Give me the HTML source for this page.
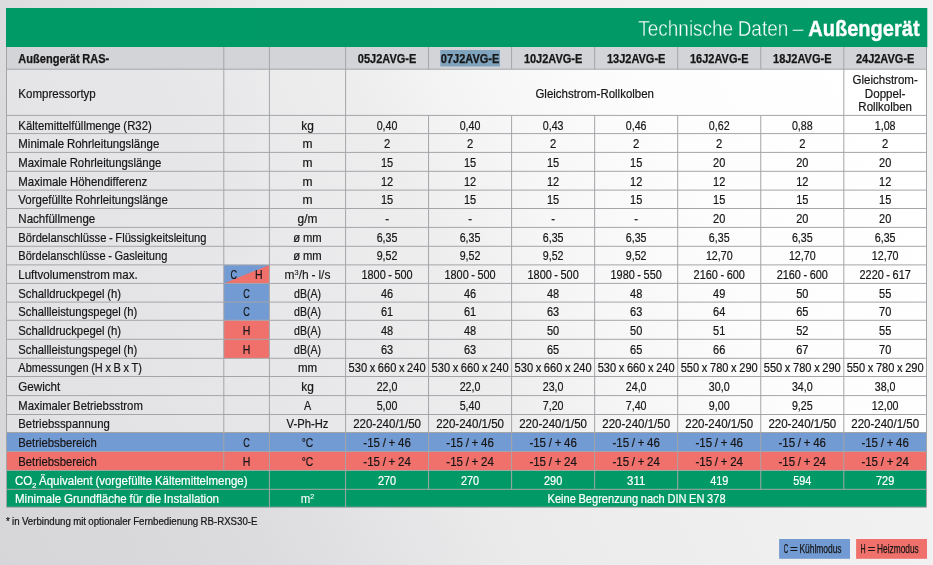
<!DOCTYPE html>
<html lang="de"><head><meta charset="utf-8"><title>Technische Daten – Außengerät</title>
<style>
html,body{margin:0;padding:0;}
body{width:933px;height:565px;overflow:hidden;font-family:"Liberation Sans",sans-serif;
background:#e6e6e8;}
svg{display:block;position:absolute;left:0;top:0;font-family:"Liberation Sans",sans-serif;will-change:transform;opacity:0.999;}
</style></head><body>
<svg width="933" height="565" viewBox="0 0 933 565">
<defs><linearGradient id="gOut" gradientUnits="userSpaceOnUse" x1="0" y1="565" x2="978.7" y2="95.2"><stop offset="0.000" stop-color="#d6d6d8"/><stop offset="0.092" stop-color="#d8d8da"/><stop offset="0.225" stop-color="#dcdcde"/><stop offset="0.308" stop-color="#e2e2e4"/><stop offset="0.425" stop-color="#eaeaeb"/><stop offset="0.591" stop-color="#eeeeee"/><stop offset="0.773" stop-color="#f1f1f1"/><stop offset="0.973" stop-color="#f3f3f3"/></linearGradient><linearGradient id="gIn" gradientUnits="userSpaceOnUse" x1="0" y1="565" x2="978.7" y2="95.2"><stop offset="0.000" stop-color="#e0e0e2"/><stop offset="0.198" stop-color="#e4e4e6"/><stop offset="0.308" stop-color="#e7e7e9"/><stop offset="0.480" stop-color="#ededee"/><stop offset="0.588" stop-color="#f6f6f6"/><stop offset="0.729" stop-color="#fdfdfd"/><stop offset="0.937" stop-color="#ffffff"/></linearGradient></defs>
<rect x="0.00" y="0.00" width="933.00" height="565.00" fill="url(#gOut)" />
<rect x="6.50" y="69.20" width="920.00" height="363.30" fill="url(#gIn)" />
<rect x="6.00" y="8.00" width="921.30" height="39.30" fill="#009a66" />
<rect x="6.50" y="47.00" width="920.00" height="22.20" fill="#d3d4d7" />
<rect x="223.80" y="264.90" width="45.60" height="18.50" fill="#739bd3" />
<polygon points="223.80,283.40 269.40,264.90 269.40,283.40" fill="#f0706b"/>
<rect x="223.80" y="283.40" width="45.60" height="36.90" fill="#739bd3" />
<rect x="223.80" y="320.30" width="45.60" height="38.00" fill="#f0706b" />
<rect x="6.50" y="432.50" width="920.00" height="19.00" fill="#739bd3" />
<rect x="6.50" y="451.50" width="920.00" height="18.90" fill="#f0706b" />
<rect x="6.50" y="470.40" width="920.00" height="36.80" fill="#009a66" />
<rect x="440.30" y="50.00" width="59.70" height="16.50" fill="#7fa2bd" />
<line x1="6.50" y1="69.20" x2="926.50" y2="69.20" stroke="#a4a5a8" stroke-width="1"/>
<line x1="6.50" y1="115.40" x2="926.50" y2="115.40" stroke="#a4a5a8" stroke-width="1"/>
<line x1="6.50" y1="133.60" x2="926.50" y2="133.60" stroke="#a4a5a8" stroke-width="1"/>
<line x1="6.50" y1="152.40" x2="926.50" y2="152.40" stroke="#a4a5a8" stroke-width="1"/>
<line x1="6.50" y1="171.30" x2="926.50" y2="171.30" stroke="#a4a5a8" stroke-width="1"/>
<line x1="6.50" y1="190.10" x2="926.50" y2="190.10" stroke="#a4a5a8" stroke-width="1"/>
<line x1="6.50" y1="208.50" x2="926.50" y2="208.50" stroke="#a4a5a8" stroke-width="1"/>
<line x1="6.50" y1="227.40" x2="926.50" y2="227.40" stroke="#a4a5a8" stroke-width="1"/>
<line x1="6.50" y1="246.30" x2="926.50" y2="246.30" stroke="#a4a5a8" stroke-width="1"/>
<line x1="6.50" y1="264.90" x2="926.50" y2="264.90" stroke="#a4a5a8" stroke-width="1"/>
<line x1="6.50" y1="283.40" x2="926.50" y2="283.40" stroke="#a4a5a8" stroke-width="1"/>
<line x1="6.50" y1="302.10" x2="926.50" y2="302.10" stroke="#a4a5a8" stroke-width="1"/>
<line x1="6.50" y1="320.30" x2="926.50" y2="320.30" stroke="#a4a5a8" stroke-width="1"/>
<line x1="6.50" y1="339.30" x2="926.50" y2="339.30" stroke="#a4a5a8" stroke-width="1"/>
<line x1="6.50" y1="358.30" x2="926.50" y2="358.30" stroke="#a4a5a8" stroke-width="1"/>
<line x1="6.50" y1="376.50" x2="926.50" y2="376.50" stroke="#a4a5a8" stroke-width="1"/>
<line x1="6.50" y1="395.60" x2="926.50" y2="395.60" stroke="#a4a5a8" stroke-width="1"/>
<line x1="6.50" y1="414.50" x2="926.50" y2="414.50" stroke="#a4a5a8" stroke-width="1"/>
<line x1="6.50" y1="432.50" x2="926.50" y2="432.50" stroke="#a4a5a8" stroke-width="1"/>
<line x1="6.50" y1="451.50" x2="926.50" y2="451.50" stroke="#a4a5a8" stroke-width="1"/>
<line x1="6.50" y1="470.40" x2="926.50" y2="470.40" stroke="#a4a5a8" stroke-width="1"/>
<line x1="6.50" y1="489.30" x2="926.50" y2="489.30" stroke="#a4a5a8" stroke-width="1"/>
<line x1="6.50" y1="507.20" x2="926.50" y2="507.20" stroke="#a4a5a8" stroke-width="1"/>
<line x1="6.50" y1="47.00" x2="6.50" y2="507.20" stroke="#a4a5a8" stroke-width="1"/>
<line x1="926.50" y1="47.00" x2="926.50" y2="507.20" stroke="#a4a5a8" stroke-width="1"/>
<line x1="223.80" y1="47.00" x2="223.80" y2="470.40" stroke="#a4a5a8" stroke-width="1"/>
<line x1="269.40" y1="47.00" x2="269.40" y2="507.20" stroke="#a4a5a8" stroke-width="1"/>
<line x1="345.60" y1="47.00" x2="345.60" y2="507.20" stroke="#a4a5a8" stroke-width="1"/>
<line x1="428.55" y1="47.00" x2="428.55" y2="69.20" stroke="#a4a5a8" stroke-width="1"/>
<line x1="428.55" y1="115.40" x2="428.55" y2="489.30" stroke="#a4a5a8" stroke-width="1"/>
<line x1="511.60" y1="47.00" x2="511.60" y2="69.20" stroke="#a4a5a8" stroke-width="1"/>
<line x1="511.60" y1="115.40" x2="511.60" y2="489.30" stroke="#a4a5a8" stroke-width="1"/>
<line x1="594.65" y1="47.00" x2="594.65" y2="69.20" stroke="#a4a5a8" stroke-width="1"/>
<line x1="594.65" y1="115.40" x2="594.65" y2="489.30" stroke="#a4a5a8" stroke-width="1"/>
<line x1="677.70" y1="47.00" x2="677.70" y2="69.20" stroke="#a4a5a8" stroke-width="1"/>
<line x1="677.70" y1="115.40" x2="677.70" y2="489.30" stroke="#a4a5a8" stroke-width="1"/>
<line x1="760.75" y1="47.00" x2="760.75" y2="69.20" stroke="#a4a5a8" stroke-width="1"/>
<line x1="760.75" y1="115.40" x2="760.75" y2="489.30" stroke="#a4a5a8" stroke-width="1"/>
<line x1="843.80" y1="47.00" x2="843.80" y2="69.20" stroke="#a4a5a8" stroke-width="1"/>
<line x1="843.80" y1="115.40" x2="843.80" y2="489.30" stroke="#a4a5a8" stroke-width="1"/>
<line x1="843.80" y1="69.20" x2="843.80" y2="115.40" stroke="#a4a5a8" stroke-width="1"/>
<text x="638.30" y="36.00" font-size="21.8" fill="#fff" textLength="165.00" lengthAdjust="spacingAndGlyphs" stroke="#009a66" stroke-width="0.4" word-spacing="-0.87">Technische Daten –</text>
<text x="808.20" y="36.00" font-size="22" fill="#fff" font-weight="700" textLength="111.50" lengthAdjust="spacingAndGlyphs" stroke="#fff" stroke-width="0.35">Außengerät</text>
<text x="18.30" y="62.90" font-size="12" fill="#161616" font-weight="700" textLength="91.00" lengthAdjust="spacingAndGlyphs"  stroke="#161616" stroke-width="0.25" word-spacing="-0.48">Außengerät RAS-</text>
<text x="357.83" y="62.90" font-size="12" fill="#161616" font-weight="700" textLength="58.50" lengthAdjust="spacingAndGlyphs"  stroke="#161616" stroke-width="0.25">05J2AVG-E</text>
<text x="440.83" y="62.90" font-size="12" fill="#161616" font-weight="700" textLength="58.50" lengthAdjust="spacingAndGlyphs"  stroke="#161616" stroke-width="0.25">07J2AVG-E</text>
<text x="523.88" y="62.90" font-size="12" fill="#161616" font-weight="700" textLength="58.50" lengthAdjust="spacingAndGlyphs"  stroke="#161616" stroke-width="0.25">10J2AVG-E</text>
<text x="606.92" y="62.90" font-size="12" fill="#161616" font-weight="700" textLength="58.50" lengthAdjust="spacingAndGlyphs"  stroke="#161616" stroke-width="0.25">13J2AVG-E</text>
<text x="689.98" y="62.90" font-size="12" fill="#161616" font-weight="700" textLength="58.50" lengthAdjust="spacingAndGlyphs"  stroke="#161616" stroke-width="0.25">16J2AVG-E</text>
<text x="773.02" y="62.90" font-size="12" fill="#161616" font-weight="700" textLength="58.50" lengthAdjust="spacingAndGlyphs"  stroke="#161616" stroke-width="0.25">18J2AVG-E</text>
<text x="855.90" y="62.90" font-size="12" fill="#161616" font-weight="700" textLength="58.50" lengthAdjust="spacingAndGlyphs"  stroke="#161616" stroke-width="0.25">24J2AVG-E</text>
<text x="18.30" y="97.70" font-size="12.6" fill="#161616" textLength="77.50" lengthAdjust="spacingAndGlyphs"  stroke="#161616" stroke-width="0.2">Kompressortyp</text>
<text x="535.45" y="97.70" font-size="12.3" fill="#161616" textLength="118.50" lengthAdjust="spacingAndGlyphs"  stroke="#161616" stroke-width="0.2">Gleichstrom-Rollkolben</text>
<text x="852.55" y="84.00" font-size="12.3" fill="#161616" textLength="65.20" lengthAdjust="spacingAndGlyphs"  stroke="#161616" stroke-width="0.2">Gleichstrom-</text>
<text x="864.85" y="97.80" font-size="12.3" fill="#161616" textLength="40.60" lengthAdjust="spacingAndGlyphs"  stroke="#161616" stroke-width="0.2">Doppel-</text>
<text x="858.35" y="110.70" font-size="12.3" fill="#161616" textLength="53.60" lengthAdjust="spacingAndGlyphs"  stroke="#161616" stroke-width="0.2">Rollkolben</text>
<text x="18.30" y="129.70" font-size="12.6" fill="#161616" textLength="133.50" lengthAdjust="spacingAndGlyphs"  stroke="#161616" stroke-width="0.2" word-spacing="-0.50">Kältemittelfüllmenge (R32)</text>
<text x="301.20" y="129.70" font-size="12.3" fill="#161616" textLength="12.60" lengthAdjust="spacingAndGlyphs"  stroke="#161616" stroke-width="0.2">kg</text>
<text x="376.70" y="129.70" font-size="12.3" fill="#161616" textLength="20.75" lengthAdjust="spacingAndGlyphs"  stroke="#161616" stroke-width="0.2">0,40</text>
<text x="459.70" y="129.70" font-size="12.3" fill="#161616" textLength="20.75" lengthAdjust="spacingAndGlyphs"  stroke="#161616" stroke-width="0.2">0,40</text>
<text x="542.75" y="129.70" font-size="12.3" fill="#161616" textLength="20.75" lengthAdjust="spacingAndGlyphs"  stroke="#161616" stroke-width="0.2">0,43</text>
<text x="625.80" y="129.70" font-size="12.3" fill="#161616" textLength="20.75" lengthAdjust="spacingAndGlyphs"  stroke="#161616" stroke-width="0.2">0,46</text>
<text x="708.85" y="129.70" font-size="12.3" fill="#161616" textLength="20.75" lengthAdjust="spacingAndGlyphs"  stroke="#161616" stroke-width="0.2">0,62</text>
<text x="791.90" y="129.70" font-size="12.3" fill="#161616" textLength="20.75" lengthAdjust="spacingAndGlyphs"  stroke="#161616" stroke-width="0.2">0,88</text>
<text x="874.77" y="129.70" font-size="12.3" fill="#161616" textLength="20.75" lengthAdjust="spacingAndGlyphs"  stroke="#161616" stroke-width="0.2">1,08</text>
<text x="18.30" y="148.36" font-size="12.6" fill="#161616" textLength="141.00" lengthAdjust="spacingAndGlyphs"  stroke="#161616" stroke-width="0.2" word-spacing="-0.50">Minimale Rohrleitungslänge</text>
<text x="302.50" y="148.36" font-size="12.3" fill="#161616" textLength="10.00" lengthAdjust="spacingAndGlyphs"  stroke="#161616" stroke-width="0.2">m</text>
<text x="383.95" y="148.36" font-size="12.3" fill="#161616" textLength="6.25" lengthAdjust="spacingAndGlyphs"  stroke="#161616" stroke-width="0.2">2</text>
<text x="466.95" y="148.36" font-size="12.3" fill="#161616" textLength="6.25" lengthAdjust="spacingAndGlyphs"  stroke="#161616" stroke-width="0.2">2</text>
<text x="550.00" y="148.36" font-size="12.3" fill="#161616" textLength="6.25" lengthAdjust="spacingAndGlyphs"  stroke="#161616" stroke-width="0.2">2</text>
<text x="633.05" y="148.36" font-size="12.3" fill="#161616" textLength="6.25" lengthAdjust="spacingAndGlyphs"  stroke="#161616" stroke-width="0.2">2</text>
<text x="716.10" y="148.36" font-size="12.3" fill="#161616" textLength="6.25" lengthAdjust="spacingAndGlyphs"  stroke="#161616" stroke-width="0.2">2</text>
<text x="799.15" y="148.36" font-size="12.3" fill="#161616" textLength="6.25" lengthAdjust="spacingAndGlyphs"  stroke="#161616" stroke-width="0.2">2</text>
<text x="882.02" y="148.36" font-size="12.3" fill="#161616" textLength="6.25" lengthAdjust="spacingAndGlyphs"  stroke="#161616" stroke-width="0.2">2</text>
<text x="18.30" y="167.02" font-size="12.6" fill="#161616" textLength="143.00" lengthAdjust="spacingAndGlyphs"  stroke="#161616" stroke-width="0.2" word-spacing="-0.50">Maximale Rohrleitungslänge</text>
<text x="302.50" y="167.02" font-size="12.3" fill="#161616" textLength="10.00" lengthAdjust="spacingAndGlyphs"  stroke="#161616" stroke-width="0.2">m</text>
<text x="380.98" y="167.02" font-size="12.3" fill="#161616" textLength="12.20" lengthAdjust="spacingAndGlyphs"  stroke="#161616" stroke-width="0.2">15</text>
<text x="463.98" y="167.02" font-size="12.3" fill="#161616" textLength="12.20" lengthAdjust="spacingAndGlyphs"  stroke="#161616" stroke-width="0.2">15</text>
<text x="547.02" y="167.02" font-size="12.3" fill="#161616" textLength="12.20" lengthAdjust="spacingAndGlyphs"  stroke="#161616" stroke-width="0.2">15</text>
<text x="630.07" y="167.02" font-size="12.3" fill="#161616" textLength="12.20" lengthAdjust="spacingAndGlyphs"  stroke="#161616" stroke-width="0.2">15</text>
<text x="713.12" y="167.02" font-size="12.3" fill="#161616" textLength="12.20" lengthAdjust="spacingAndGlyphs"  stroke="#161616" stroke-width="0.2">20</text>
<text x="796.17" y="167.02" font-size="12.3" fill="#161616" textLength="12.20" lengthAdjust="spacingAndGlyphs"  stroke="#161616" stroke-width="0.2">20</text>
<text x="879.05" y="167.02" font-size="12.3" fill="#161616" textLength="12.20" lengthAdjust="spacingAndGlyphs"  stroke="#161616" stroke-width="0.2">20</text>
<text x="18.30" y="185.68" font-size="12.6" fill="#161616" textLength="129.00" lengthAdjust="spacingAndGlyphs"  stroke="#161616" stroke-width="0.2" word-spacing="-0.50">Maximale Höhendifferenz</text>
<text x="302.50" y="185.68" font-size="12.3" fill="#161616" textLength="10.00" lengthAdjust="spacingAndGlyphs"  stroke="#161616" stroke-width="0.2">m</text>
<text x="380.98" y="185.68" font-size="12.3" fill="#161616" textLength="12.20" lengthAdjust="spacingAndGlyphs"  stroke="#161616" stroke-width="0.2">12</text>
<text x="463.98" y="185.68" font-size="12.3" fill="#161616" textLength="12.20" lengthAdjust="spacingAndGlyphs"  stroke="#161616" stroke-width="0.2">12</text>
<text x="547.02" y="185.68" font-size="12.3" fill="#161616" textLength="12.20" lengthAdjust="spacingAndGlyphs"  stroke="#161616" stroke-width="0.2">12</text>
<text x="630.07" y="185.68" font-size="12.3" fill="#161616" textLength="12.20" lengthAdjust="spacingAndGlyphs"  stroke="#161616" stroke-width="0.2">12</text>
<text x="713.12" y="185.68" font-size="12.3" fill="#161616" textLength="12.20" lengthAdjust="spacingAndGlyphs"  stroke="#161616" stroke-width="0.2">12</text>
<text x="796.17" y="185.68" font-size="12.3" fill="#161616" textLength="12.20" lengthAdjust="spacingAndGlyphs"  stroke="#161616" stroke-width="0.2">12</text>
<text x="879.05" y="185.68" font-size="12.3" fill="#161616" textLength="12.20" lengthAdjust="spacingAndGlyphs"  stroke="#161616" stroke-width="0.2">12</text>
<text x="18.30" y="204.34" font-size="12.6" fill="#161616" textLength="149.50" lengthAdjust="spacingAndGlyphs"  stroke="#161616" stroke-width="0.2" word-spacing="-0.50">Vorgefüllte Rohrleitungslänge</text>
<text x="302.50" y="204.34" font-size="12.3" fill="#161616" textLength="10.00" lengthAdjust="spacingAndGlyphs"  stroke="#161616" stroke-width="0.2">m</text>
<text x="380.98" y="204.34" font-size="12.3" fill="#161616" textLength="12.20" lengthAdjust="spacingAndGlyphs"  stroke="#161616" stroke-width="0.2">15</text>
<text x="463.98" y="204.34" font-size="12.3" fill="#161616" textLength="12.20" lengthAdjust="spacingAndGlyphs"  stroke="#161616" stroke-width="0.2">15</text>
<text x="547.02" y="204.34" font-size="12.3" fill="#161616" textLength="12.20" lengthAdjust="spacingAndGlyphs"  stroke="#161616" stroke-width="0.2">15</text>
<text x="630.07" y="204.34" font-size="12.3" fill="#161616" textLength="12.20" lengthAdjust="spacingAndGlyphs"  stroke="#161616" stroke-width="0.2">15</text>
<text x="713.12" y="204.34" font-size="12.3" fill="#161616" textLength="12.20" lengthAdjust="spacingAndGlyphs"  stroke="#161616" stroke-width="0.2">15</text>
<text x="796.17" y="204.34" font-size="12.3" fill="#161616" textLength="12.20" lengthAdjust="spacingAndGlyphs"  stroke="#161616" stroke-width="0.2">15</text>
<text x="879.05" y="204.34" font-size="12.3" fill="#161616" textLength="12.20" lengthAdjust="spacingAndGlyphs"  stroke="#161616" stroke-width="0.2">15</text>
<text x="18.30" y="223.00" font-size="12.6" fill="#161616" textLength="77.00" lengthAdjust="spacingAndGlyphs"  stroke="#161616" stroke-width="0.2">Nachfüllmenge</text>
<text x="297.60" y="223.00" font-size="12.3" fill="#161616" textLength="19.80" lengthAdjust="spacingAndGlyphs"  stroke="#161616" stroke-width="0.2">g/m</text>
<text x="385.18" y="223.00" font-size="12.3" fill="#161616" textLength="3.80" lengthAdjust="spacingAndGlyphs"  stroke="#161616" stroke-width="0.2">-</text>
<text x="468.18" y="223.00" font-size="12.3" fill="#161616" textLength="3.80" lengthAdjust="spacingAndGlyphs"  stroke="#161616" stroke-width="0.2">-</text>
<text x="551.23" y="223.00" font-size="12.3" fill="#161616" textLength="3.80" lengthAdjust="spacingAndGlyphs"  stroke="#161616" stroke-width="0.2">-</text>
<text x="634.27" y="223.00" font-size="12.3" fill="#161616" textLength="3.80" lengthAdjust="spacingAndGlyphs"  stroke="#161616" stroke-width="0.2">-</text>
<text x="713.12" y="223.00" font-size="12.3" fill="#161616" textLength="12.20" lengthAdjust="spacingAndGlyphs"  stroke="#161616" stroke-width="0.2">20</text>
<text x="796.17" y="223.00" font-size="12.3" fill="#161616" textLength="12.20" lengthAdjust="spacingAndGlyphs"  stroke="#161616" stroke-width="0.2">20</text>
<text x="879.05" y="223.00" font-size="12.3" fill="#161616" textLength="12.20" lengthAdjust="spacingAndGlyphs"  stroke="#161616" stroke-width="0.2">20</text>
<text x="18.30" y="241.66" font-size="12.6" fill="#161616" textLength="188.20" lengthAdjust="spacingAndGlyphs"  stroke="#161616" stroke-width="0.2" word-spacing="-0.50">Bördelanschlüsse - Flüssigkeitsleitung</text>
<text x="293.35" y="241.66" font-size="12.3" fill="#161616" textLength="28.30" lengthAdjust="spacingAndGlyphs"  stroke="#161616" stroke-width="0.2" word-spacing="-0.49">ø mm</text>
<text x="376.70" y="241.66" font-size="12.3" fill="#161616" textLength="20.75" lengthAdjust="spacingAndGlyphs"  stroke="#161616" stroke-width="0.2">6,35</text>
<text x="459.70" y="241.66" font-size="12.3" fill="#161616" textLength="20.75" lengthAdjust="spacingAndGlyphs"  stroke="#161616" stroke-width="0.2">6,35</text>
<text x="542.75" y="241.66" font-size="12.3" fill="#161616" textLength="20.75" lengthAdjust="spacingAndGlyphs"  stroke="#161616" stroke-width="0.2">6,35</text>
<text x="625.80" y="241.66" font-size="12.3" fill="#161616" textLength="20.75" lengthAdjust="spacingAndGlyphs"  stroke="#161616" stroke-width="0.2">6,35</text>
<text x="708.85" y="241.66" font-size="12.3" fill="#161616" textLength="20.75" lengthAdjust="spacingAndGlyphs"  stroke="#161616" stroke-width="0.2">6,35</text>
<text x="791.90" y="241.66" font-size="12.3" fill="#161616" textLength="20.75" lengthAdjust="spacingAndGlyphs"  stroke="#161616" stroke-width="0.2">6,35</text>
<text x="874.77" y="241.66" font-size="12.3" fill="#161616" textLength="20.75" lengthAdjust="spacingAndGlyphs"  stroke="#161616" stroke-width="0.2">6,35</text>
<text x="18.30" y="260.32" font-size="12.6" fill="#161616" textLength="149.00" lengthAdjust="spacingAndGlyphs"  stroke="#161616" stroke-width="0.2" word-spacing="-0.50">Bördelanschlüsse - Gasleitung</text>
<text x="293.35" y="260.32" font-size="12.3" fill="#161616" textLength="28.30" lengthAdjust="spacingAndGlyphs"  stroke="#161616" stroke-width="0.2" word-spacing="-0.49">ø mm</text>
<text x="376.70" y="260.32" font-size="12.3" fill="#161616" textLength="20.75" lengthAdjust="spacingAndGlyphs"  stroke="#161616" stroke-width="0.2">9,52</text>
<text x="459.70" y="260.32" font-size="12.3" fill="#161616" textLength="20.75" lengthAdjust="spacingAndGlyphs"  stroke="#161616" stroke-width="0.2">9,52</text>
<text x="542.75" y="260.32" font-size="12.3" fill="#161616" textLength="20.75" lengthAdjust="spacingAndGlyphs"  stroke="#161616" stroke-width="0.2">9,52</text>
<text x="625.80" y="260.32" font-size="12.3" fill="#161616" textLength="20.75" lengthAdjust="spacingAndGlyphs"  stroke="#161616" stroke-width="0.2">9,52</text>
<text x="705.88" y="260.32" font-size="12.3" fill="#161616" textLength="26.70" lengthAdjust="spacingAndGlyphs"  stroke="#161616" stroke-width="0.2">12,70</text>
<text x="788.92" y="260.32" font-size="12.3" fill="#161616" textLength="26.70" lengthAdjust="spacingAndGlyphs"  stroke="#161616" stroke-width="0.2">12,70</text>
<text x="871.80" y="260.32" font-size="12.3" fill="#161616" textLength="26.70" lengthAdjust="spacingAndGlyphs"  stroke="#161616" stroke-width="0.2">12,70</text>
<text x="18.30" y="278.98" font-size="12.6" fill="#161616" textLength="119.30" lengthAdjust="spacingAndGlyphs"  stroke="#161616" stroke-width="0.2" word-spacing="-0.50">Luftvolumenstrom max.</text>
<text x="230.50" y="278.98" font-size="12.3" fill="#161616" textLength="6.60" lengthAdjust="spacingAndGlyphs"  stroke="#161616" stroke-width="0.2">C</text>
<text x="255.00" y="278.98" font-size="12.3" fill="#161616" textLength="7.60" lengthAdjust="spacingAndGlyphs"  stroke="#161616" stroke-width="0.2">H</text>
<text x="284.60" y="278.98" font-size="12.3" fill="#161616" stroke="#161616" stroke-width="0.1" word-spacing="-0.5" textLength="45.80" lengthAdjust="spacingAndGlyphs">m<tspan font-size="7.6" dy="-4.2">3</tspan><tspan dy="4.2">/h - l/s</tspan></text>
<text x="361.48" y="278.98" font-size="12.3" fill="#161616" textLength="51.20" lengthAdjust="spacingAndGlyphs"  stroke="#161616" stroke-width="0.2" word-spacing="-0.49">1800 - 500</text>
<text x="444.48" y="278.98" font-size="12.3" fill="#161616" textLength="51.20" lengthAdjust="spacingAndGlyphs"  stroke="#161616" stroke-width="0.2" word-spacing="-0.49">1800 - 500</text>
<text x="527.52" y="278.98" font-size="12.3" fill="#161616" textLength="51.20" lengthAdjust="spacingAndGlyphs"  stroke="#161616" stroke-width="0.2" word-spacing="-0.49">1800 - 500</text>
<text x="610.57" y="278.98" font-size="12.3" fill="#161616" textLength="51.20" lengthAdjust="spacingAndGlyphs"  stroke="#161616" stroke-width="0.2" word-spacing="-0.49">1980 - 550</text>
<text x="693.62" y="278.98" font-size="12.3" fill="#161616" textLength="51.20" lengthAdjust="spacingAndGlyphs"  stroke="#161616" stroke-width="0.2" word-spacing="-0.49">2160 - 600</text>
<text x="776.67" y="278.98" font-size="12.3" fill="#161616" textLength="51.20" lengthAdjust="spacingAndGlyphs"  stroke="#161616" stroke-width="0.2" word-spacing="-0.49">2160 - 600</text>
<text x="859.55" y="278.98" font-size="12.3" fill="#161616" textLength="51.20" lengthAdjust="spacingAndGlyphs"  stroke="#161616" stroke-width="0.2" word-spacing="-0.49">2220 - 617</text>
<text x="18.30" y="297.64" font-size="12.6" fill="#161616" textLength="102.80" lengthAdjust="spacingAndGlyphs"  stroke="#161616" stroke-width="0.2" word-spacing="-0.50">Schalldruckpegel (h)</text>
<text x="243.30" y="297.64" font-size="12.3" fill="#161616" textLength="6.60" lengthAdjust="spacingAndGlyphs"  stroke="#161616" stroke-width="0.2">C</text>
<text x="294.05" y="297.64" font-size="12.3" fill="#161616" textLength="26.90" lengthAdjust="spacingAndGlyphs"  stroke="#161616" stroke-width="0.2">dB(A)</text>
<text x="380.98" y="297.64" font-size="12.3" fill="#161616" textLength="12.20" lengthAdjust="spacingAndGlyphs"  stroke="#161616" stroke-width="0.2">46</text>
<text x="463.98" y="297.64" font-size="12.3" fill="#161616" textLength="12.20" lengthAdjust="spacingAndGlyphs"  stroke="#161616" stroke-width="0.2">46</text>
<text x="547.02" y="297.64" font-size="12.3" fill="#161616" textLength="12.20" lengthAdjust="spacingAndGlyphs"  stroke="#161616" stroke-width="0.2">48</text>
<text x="630.07" y="297.64" font-size="12.3" fill="#161616" textLength="12.20" lengthAdjust="spacingAndGlyphs"  stroke="#161616" stroke-width="0.2">48</text>
<text x="713.12" y="297.64" font-size="12.3" fill="#161616" textLength="12.20" lengthAdjust="spacingAndGlyphs"  stroke="#161616" stroke-width="0.2">49</text>
<text x="796.17" y="297.64" font-size="12.3" fill="#161616" textLength="12.20" lengthAdjust="spacingAndGlyphs"  stroke="#161616" stroke-width="0.2">50</text>
<text x="879.05" y="297.64" font-size="12.3" fill="#161616" textLength="12.20" lengthAdjust="spacingAndGlyphs"  stroke="#161616" stroke-width="0.2">55</text>
<text x="18.30" y="316.30" font-size="12.6" fill="#161616" textLength="118.90" lengthAdjust="spacingAndGlyphs"  stroke="#161616" stroke-width="0.2" word-spacing="-0.50">Schallleistungspegel (h)</text>
<text x="243.30" y="316.30" font-size="12.3" fill="#161616" textLength="6.60" lengthAdjust="spacingAndGlyphs"  stroke="#161616" stroke-width="0.2">C</text>
<text x="294.05" y="316.30" font-size="12.3" fill="#161616" textLength="26.90" lengthAdjust="spacingAndGlyphs"  stroke="#161616" stroke-width="0.2">dB(A)</text>
<text x="380.98" y="316.30" font-size="12.3" fill="#161616" textLength="12.20" lengthAdjust="spacingAndGlyphs"  stroke="#161616" stroke-width="0.2">61</text>
<text x="463.98" y="316.30" font-size="12.3" fill="#161616" textLength="12.20" lengthAdjust="spacingAndGlyphs"  stroke="#161616" stroke-width="0.2">61</text>
<text x="547.02" y="316.30" font-size="12.3" fill="#161616" textLength="12.20" lengthAdjust="spacingAndGlyphs"  stroke="#161616" stroke-width="0.2">63</text>
<text x="630.07" y="316.30" font-size="12.3" fill="#161616" textLength="12.20" lengthAdjust="spacingAndGlyphs"  stroke="#161616" stroke-width="0.2">63</text>
<text x="713.12" y="316.30" font-size="12.3" fill="#161616" textLength="12.20" lengthAdjust="spacingAndGlyphs"  stroke="#161616" stroke-width="0.2">64</text>
<text x="796.17" y="316.30" font-size="12.3" fill="#161616" textLength="12.20" lengthAdjust="spacingAndGlyphs"  stroke="#161616" stroke-width="0.2">65</text>
<text x="879.05" y="316.30" font-size="12.3" fill="#161616" textLength="12.20" lengthAdjust="spacingAndGlyphs"  stroke="#161616" stroke-width="0.2">70</text>
<text x="18.30" y="334.96" font-size="12.6" fill="#161616" textLength="102.80" lengthAdjust="spacingAndGlyphs"  stroke="#161616" stroke-width="0.2" word-spacing="-0.50">Schalldruckpegel (h)</text>
<text x="242.80" y="334.96" font-size="12.3" fill="#161616" textLength="7.60" lengthAdjust="spacingAndGlyphs"  stroke="#161616" stroke-width="0.2">H</text>
<text x="294.05" y="334.96" font-size="12.3" fill="#161616" textLength="26.90" lengthAdjust="spacingAndGlyphs"  stroke="#161616" stroke-width="0.2">dB(A)</text>
<text x="380.98" y="334.96" font-size="12.3" fill="#161616" textLength="12.20" lengthAdjust="spacingAndGlyphs"  stroke="#161616" stroke-width="0.2">48</text>
<text x="463.98" y="334.96" font-size="12.3" fill="#161616" textLength="12.20" lengthAdjust="spacingAndGlyphs"  stroke="#161616" stroke-width="0.2">48</text>
<text x="547.02" y="334.96" font-size="12.3" fill="#161616" textLength="12.20" lengthAdjust="spacingAndGlyphs"  stroke="#161616" stroke-width="0.2">50</text>
<text x="630.07" y="334.96" font-size="12.3" fill="#161616" textLength="12.20" lengthAdjust="spacingAndGlyphs"  stroke="#161616" stroke-width="0.2">50</text>
<text x="713.12" y="334.96" font-size="12.3" fill="#161616" textLength="12.20" lengthAdjust="spacingAndGlyphs"  stroke="#161616" stroke-width="0.2">51</text>
<text x="796.17" y="334.96" font-size="12.3" fill="#161616" textLength="12.20" lengthAdjust="spacingAndGlyphs"  stroke="#161616" stroke-width="0.2">52</text>
<text x="879.05" y="334.96" font-size="12.3" fill="#161616" textLength="12.20" lengthAdjust="spacingAndGlyphs"  stroke="#161616" stroke-width="0.2">55</text>
<text x="18.30" y="353.62" font-size="12.6" fill="#161616" textLength="118.90" lengthAdjust="spacingAndGlyphs"  stroke="#161616" stroke-width="0.2" word-spacing="-0.50">Schallleistungspegel (h)</text>
<text x="242.80" y="353.62" font-size="12.3" fill="#161616" textLength="7.60" lengthAdjust="spacingAndGlyphs"  stroke="#161616" stroke-width="0.2">H</text>
<text x="294.05" y="353.62" font-size="12.3" fill="#161616" textLength="26.90" lengthAdjust="spacingAndGlyphs"  stroke="#161616" stroke-width="0.2">dB(A)</text>
<text x="380.98" y="353.62" font-size="12.3" fill="#161616" textLength="12.20" lengthAdjust="spacingAndGlyphs"  stroke="#161616" stroke-width="0.2">63</text>
<text x="463.98" y="353.62" font-size="12.3" fill="#161616" textLength="12.20" lengthAdjust="spacingAndGlyphs"  stroke="#161616" stroke-width="0.2">63</text>
<text x="547.02" y="353.62" font-size="12.3" fill="#161616" textLength="12.20" lengthAdjust="spacingAndGlyphs"  stroke="#161616" stroke-width="0.2">65</text>
<text x="630.07" y="353.62" font-size="12.3" fill="#161616" textLength="12.20" lengthAdjust="spacingAndGlyphs"  stroke="#161616" stroke-width="0.2">65</text>
<text x="713.12" y="353.62" font-size="12.3" fill="#161616" textLength="12.20" lengthAdjust="spacingAndGlyphs"  stroke="#161616" stroke-width="0.2">66</text>
<text x="796.17" y="353.62" font-size="12.3" fill="#161616" textLength="12.20" lengthAdjust="spacingAndGlyphs"  stroke="#161616" stroke-width="0.2">67</text>
<text x="879.05" y="353.62" font-size="12.3" fill="#161616" textLength="12.20" lengthAdjust="spacingAndGlyphs"  stroke="#161616" stroke-width="0.2">70</text>
<text x="18.30" y="372.28" font-size="12.6" fill="#161616" textLength="123.50" lengthAdjust="spacingAndGlyphs"  stroke="#161616" stroke-width="0.2" word-spacing="-0.50">Abmessungen (H x B x T)</text>
<text x="297.90" y="372.28" font-size="12.3" fill="#161616" textLength="19.20" lengthAdjust="spacingAndGlyphs"  stroke="#161616" stroke-width="0.2">mm</text>
<text x="348.58" y="372.28" font-size="12.3" fill="#161616" textLength="77.00" lengthAdjust="spacingAndGlyphs"  stroke="#161616" stroke-width="0.2" word-spacing="-0.49">530 x 660 x 240</text>
<text x="431.58" y="372.28" font-size="12.3" fill="#161616" textLength="77.00" lengthAdjust="spacingAndGlyphs"  stroke="#161616" stroke-width="0.2" word-spacing="-0.49">530 x 660 x 240</text>
<text x="514.62" y="372.28" font-size="12.3" fill="#161616" textLength="77.00" lengthAdjust="spacingAndGlyphs"  stroke="#161616" stroke-width="0.2" word-spacing="-0.49">530 x 660 x 240</text>
<text x="597.67" y="372.28" font-size="12.3" fill="#161616" textLength="77.00" lengthAdjust="spacingAndGlyphs"  stroke="#161616" stroke-width="0.2" word-spacing="-0.49">530 x 660 x 240</text>
<text x="680.73" y="372.28" font-size="12.3" fill="#161616" textLength="77.00" lengthAdjust="spacingAndGlyphs"  stroke="#161616" stroke-width="0.2" word-spacing="-0.49">550 x 780 x 290</text>
<text x="763.77" y="372.28" font-size="12.3" fill="#161616" textLength="77.00" lengthAdjust="spacingAndGlyphs"  stroke="#161616" stroke-width="0.2" word-spacing="-0.49">550 x 780 x 290</text>
<text x="846.65" y="372.28" font-size="12.3" fill="#161616" textLength="77.00" lengthAdjust="spacingAndGlyphs"  stroke="#161616" stroke-width="0.2" word-spacing="-0.49">550 x 780 x 290</text>
<text x="18.30" y="390.94" font-size="12.6" fill="#161616" textLength="42.00" lengthAdjust="spacingAndGlyphs"  stroke="#161616" stroke-width="0.2">Gewicht</text>
<text x="301.20" y="390.94" font-size="12.3" fill="#161616" textLength="12.60" lengthAdjust="spacingAndGlyphs"  stroke="#161616" stroke-width="0.2">kg</text>
<text x="376.70" y="390.94" font-size="12.3" fill="#161616" textLength="20.75" lengthAdjust="spacingAndGlyphs"  stroke="#161616" stroke-width="0.2">22,0</text>
<text x="459.70" y="390.94" font-size="12.3" fill="#161616" textLength="20.75" lengthAdjust="spacingAndGlyphs"  stroke="#161616" stroke-width="0.2">22,0</text>
<text x="542.75" y="390.94" font-size="12.3" fill="#161616" textLength="20.75" lengthAdjust="spacingAndGlyphs"  stroke="#161616" stroke-width="0.2">23,0</text>
<text x="625.80" y="390.94" font-size="12.3" fill="#161616" textLength="20.75" lengthAdjust="spacingAndGlyphs"  stroke="#161616" stroke-width="0.2">24,0</text>
<text x="708.85" y="390.94" font-size="12.3" fill="#161616" textLength="20.75" lengthAdjust="spacingAndGlyphs"  stroke="#161616" stroke-width="0.2">30,0</text>
<text x="791.90" y="390.94" font-size="12.3" fill="#161616" textLength="20.75" lengthAdjust="spacingAndGlyphs"  stroke="#161616" stroke-width="0.2">34,0</text>
<text x="874.77" y="390.94" font-size="12.3" fill="#161616" textLength="20.75" lengthAdjust="spacingAndGlyphs"  stroke="#161616" stroke-width="0.2">38,0</text>
<text x="18.30" y="409.60" font-size="12.6" fill="#161616" textLength="124.50" lengthAdjust="spacingAndGlyphs"  stroke="#161616" stroke-width="0.2" word-spacing="-0.50">Maximaler Betriebsstrom</text>
<text x="303.90" y="409.60" font-size="12.3" fill="#161616" textLength="7.20" lengthAdjust="spacingAndGlyphs"  stroke="#161616" stroke-width="0.2">A</text>
<text x="376.70" y="409.60" font-size="12.3" fill="#161616" textLength="20.75" lengthAdjust="spacingAndGlyphs"  stroke="#161616" stroke-width="0.2">5,00</text>
<text x="459.70" y="409.60" font-size="12.3" fill="#161616" textLength="20.75" lengthAdjust="spacingAndGlyphs"  stroke="#161616" stroke-width="0.2">5,40</text>
<text x="542.75" y="409.60" font-size="12.3" fill="#161616" textLength="20.75" lengthAdjust="spacingAndGlyphs"  stroke="#161616" stroke-width="0.2">7,20</text>
<text x="625.80" y="409.60" font-size="12.3" fill="#161616" textLength="20.75" lengthAdjust="spacingAndGlyphs"  stroke="#161616" stroke-width="0.2">7,40</text>
<text x="708.85" y="409.60" font-size="12.3" fill="#161616" textLength="20.75" lengthAdjust="spacingAndGlyphs"  stroke="#161616" stroke-width="0.2">9,00</text>
<text x="791.90" y="409.60" font-size="12.3" fill="#161616" textLength="20.75" lengthAdjust="spacingAndGlyphs"  stroke="#161616" stroke-width="0.2">9,25</text>
<text x="871.80" y="409.60" font-size="12.3" fill="#161616" textLength="26.70" lengthAdjust="spacingAndGlyphs"  stroke="#161616" stroke-width="0.2">12,00</text>
<text x="18.30" y="428.26" font-size="12.6" fill="#161616" textLength="91.50" lengthAdjust="spacingAndGlyphs"  stroke="#161616" stroke-width="0.2">Betriebsspannung</text>
<text x="286.60" y="428.26" font-size="12.3" fill="#161616" textLength="41.80" lengthAdjust="spacingAndGlyphs"  stroke="#161616" stroke-width="0.2">V-Ph-Hz</text>
<text x="353.18" y="428.26" font-size="12.3" fill="#161616" textLength="67.80" lengthAdjust="spacingAndGlyphs"  stroke="#161616" stroke-width="0.2">220-240/1/50</text>
<text x="436.18" y="428.26" font-size="12.3" fill="#161616" textLength="67.80" lengthAdjust="spacingAndGlyphs"  stroke="#161616" stroke-width="0.2">220-240/1/50</text>
<text x="519.23" y="428.26" font-size="12.3" fill="#161616" textLength="67.80" lengthAdjust="spacingAndGlyphs"  stroke="#161616" stroke-width="0.2">220-240/1/50</text>
<text x="602.27" y="428.26" font-size="12.3" fill="#161616" textLength="67.80" lengthAdjust="spacingAndGlyphs"  stroke="#161616" stroke-width="0.2">220-240/1/50</text>
<text x="685.33" y="428.26" font-size="12.3" fill="#161616" textLength="67.80" lengthAdjust="spacingAndGlyphs"  stroke="#161616" stroke-width="0.2">220-240/1/50</text>
<text x="768.38" y="428.26" font-size="12.3" fill="#161616" textLength="67.80" lengthAdjust="spacingAndGlyphs"  stroke="#161616" stroke-width="0.2">220-240/1/50</text>
<text x="851.25" y="428.26" font-size="12.3" fill="#161616" textLength="67.80" lengthAdjust="spacingAndGlyphs"  stroke="#161616" stroke-width="0.2">220-240/1/50</text>
<text x="18.30" y="446.92" font-size="12.6" fill="#161616" textLength="78.50" lengthAdjust="spacingAndGlyphs"  stroke="#161616" stroke-width="0.2">Betriebsbereich</text>
<text x="243.30" y="446.92" font-size="12.3" fill="#161616" textLength="6.60" lengthAdjust="spacingAndGlyphs"  stroke="#161616" stroke-width="0.2">C</text>
<text x="301.70" y="446.92" font-size="12.3" fill="#161616" textLength="11.60" lengthAdjust="spacingAndGlyphs"  stroke="#161616" stroke-width="0.2">°C</text>
<text x="363.33" y="446.92" font-size="12.3" fill="#161616" textLength="47.50" lengthAdjust="spacingAndGlyphs"  stroke="#161616" stroke-width="0.2" word-spacing="-0.49">-15 / + 46</text>
<text x="446.33" y="446.92" font-size="12.3" fill="#161616" textLength="47.50" lengthAdjust="spacingAndGlyphs"  stroke="#161616" stroke-width="0.2" word-spacing="-0.49">-15 / + 46</text>
<text x="529.38" y="446.92" font-size="12.3" fill="#161616" textLength="47.50" lengthAdjust="spacingAndGlyphs"  stroke="#161616" stroke-width="0.2" word-spacing="-0.49">-15 / + 46</text>
<text x="612.42" y="446.92" font-size="12.3" fill="#161616" textLength="47.50" lengthAdjust="spacingAndGlyphs"  stroke="#161616" stroke-width="0.2" word-spacing="-0.49">-15 / + 46</text>
<text x="695.48" y="446.92" font-size="12.3" fill="#161616" textLength="47.50" lengthAdjust="spacingAndGlyphs"  stroke="#161616" stroke-width="0.2" word-spacing="-0.49">-15 / + 46</text>
<text x="778.52" y="446.92" font-size="12.3" fill="#161616" textLength="47.50" lengthAdjust="spacingAndGlyphs"  stroke="#161616" stroke-width="0.2" word-spacing="-0.49">-15 / + 46</text>
<text x="861.40" y="446.92" font-size="12.3" fill="#161616" textLength="47.50" lengthAdjust="spacingAndGlyphs"  stroke="#161616" stroke-width="0.2" word-spacing="-0.49">-15 / + 46</text>
<text x="18.30" y="465.58" font-size="12.6" fill="#161616" textLength="78.50" lengthAdjust="spacingAndGlyphs"  stroke="#161616" stroke-width="0.2">Betriebsbereich</text>
<text x="242.80" y="465.58" font-size="12.3" fill="#161616" textLength="7.60" lengthAdjust="spacingAndGlyphs"  stroke="#161616" stroke-width="0.2">H</text>
<text x="301.70" y="465.58" font-size="12.3" fill="#161616" textLength="11.60" lengthAdjust="spacingAndGlyphs"  stroke="#161616" stroke-width="0.2">°C</text>
<text x="363.33" y="465.58" font-size="12.3" fill="#161616" textLength="47.50" lengthAdjust="spacingAndGlyphs"  stroke="#161616" stroke-width="0.2" word-spacing="-0.49">-15 / + 24</text>
<text x="446.33" y="465.58" font-size="12.3" fill="#161616" textLength="47.50" lengthAdjust="spacingAndGlyphs"  stroke="#161616" stroke-width="0.2" word-spacing="-0.49">-15 / + 24</text>
<text x="529.38" y="465.58" font-size="12.3" fill="#161616" textLength="47.50" lengthAdjust="spacingAndGlyphs"  stroke="#161616" stroke-width="0.2" word-spacing="-0.49">-15 / + 24</text>
<text x="612.42" y="465.58" font-size="12.3" fill="#161616" textLength="47.50" lengthAdjust="spacingAndGlyphs"  stroke="#161616" stroke-width="0.2" word-spacing="-0.49">-15 / + 24</text>
<text x="695.48" y="465.58" font-size="12.3" fill="#161616" textLength="47.50" lengthAdjust="spacingAndGlyphs"  stroke="#161616" stroke-width="0.2" word-spacing="-0.49">-15 / + 24</text>
<text x="778.52" y="465.58" font-size="12.3" fill="#161616" textLength="47.50" lengthAdjust="spacingAndGlyphs"  stroke="#161616" stroke-width="0.2" word-spacing="-0.49">-15 / + 24</text>
<text x="861.40" y="465.58" font-size="12.3" fill="#161616" textLength="47.50" lengthAdjust="spacingAndGlyphs"  stroke="#161616" stroke-width="0.2" word-spacing="-0.49">-15 / + 24</text>
<text x="15" y="485.04" font-size="12.6" fill="#fff" stroke="#fff" stroke-width="0.22" word-spacing="-0.5" textLength="232.5" lengthAdjust="spacingAndGlyphs">CO<tspan font-size="8" dy="2.8">2</tspan><tspan dy="-2.8"> Äquivalent (vorgefüllte Kältemittelmenge)</tspan></text>
<text x="378.00" y="485.04" font-size="12.3" fill="#fff" textLength="18.15" lengthAdjust="spacingAndGlyphs"  stroke="#fff" stroke-width="0.22">270</text>
<text x="461.00" y="485.04" font-size="12.3" fill="#fff" textLength="18.15" lengthAdjust="spacingAndGlyphs"  stroke="#fff" stroke-width="0.22">270</text>
<text x="544.05" y="485.04" font-size="12.3" fill="#fff" textLength="18.15" lengthAdjust="spacingAndGlyphs"  stroke="#fff" stroke-width="0.22">290</text>
<text x="627.10" y="485.04" font-size="12.3" fill="#fff" textLength="18.15" lengthAdjust="spacingAndGlyphs"  stroke="#fff" stroke-width="0.22">311</text>
<text x="710.15" y="485.04" font-size="12.3" fill="#fff" textLength="18.15" lengthAdjust="spacingAndGlyphs"  stroke="#fff" stroke-width="0.22">419</text>
<text x="793.20" y="485.04" font-size="12.3" fill="#fff" textLength="18.15" lengthAdjust="spacingAndGlyphs"  stroke="#fff" stroke-width="0.22">594</text>
<text x="876.07" y="485.04" font-size="12.3" fill="#fff" textLength="18.15" lengthAdjust="spacingAndGlyphs"  stroke="#fff" stroke-width="0.22">729</text>
<text x="15.00" y="502.90" font-size="12.6" fill="#fff" textLength="204.00" lengthAdjust="spacingAndGlyphs"  stroke="#fff" stroke-width="0.22" word-spacing="-0.50">Minimale Grundfläche für die Installation</text>
<text x="300.75" y="502.90" font-size="12.3" fill="#fff" stroke="#fff" stroke-width="0.1" textLength="13.5" lengthAdjust="spacingAndGlyphs">m<tspan font-size="7.6" dy="-4.2">2</tspan></text>
<text x="547.55" y="502.90" font-size="12.6" fill="#fff" textLength="178.00" lengthAdjust="spacingAndGlyphs"  stroke="#fff" stroke-width="0.22" word-spacing="-0.50">Keine Begrenzung nach DIN EN 378</text>
<text x="6.00" y="524.90" font-size="10.6" fill="#161616" textLength="251.50" lengthAdjust="spacingAndGlyphs"  stroke="#161616" stroke-width="0.22" word-spacing="-0.42">* in Verbindung mit optionaler Fernbedienung RB-RXS30-E</text>
<rect x="779.10" y="539.00" width="70.90" height="19.80" fill="#739bd3" />
<rect x="856.10" y="539.00" width="70.90" height="19.80" fill="#f0706b" />
<text x="783.80" y="553.00" font-size="12.6" fill="#161616" textLength="4.40" lengthAdjust="spacingAndGlyphs" stroke="#161616" stroke-width="0.25">C</text>
<text x="789.90" y="553.00" font-size="12.6" fill="#161616" textLength="7.80" lengthAdjust="spacingAndGlyphs" stroke="#161616" stroke-width="0.25">=</text>
<text x="799.40" y="553.00" font-size="12.6" fill="#161616" textLength="42.20" lengthAdjust="spacingAndGlyphs" stroke="#161616" stroke-width="0.25">Kühlmodus</text>
<text x="860.50" y="553.00" font-size="12.6" fill="#161616" textLength="5.10" lengthAdjust="spacingAndGlyphs" stroke="#161616" stroke-width="0.25">H</text>
<text x="867.40" y="553.00" font-size="12.6" fill="#161616" textLength="7.90" lengthAdjust="spacingAndGlyphs" stroke="#161616" stroke-width="0.25">=</text>
<text x="877.10" y="553.00" font-size="12.6" fill="#161616" textLength="41.60" lengthAdjust="spacingAndGlyphs" stroke="#161616" stroke-width="0.25">Heizmodus</text>
</svg>
</body></html>
